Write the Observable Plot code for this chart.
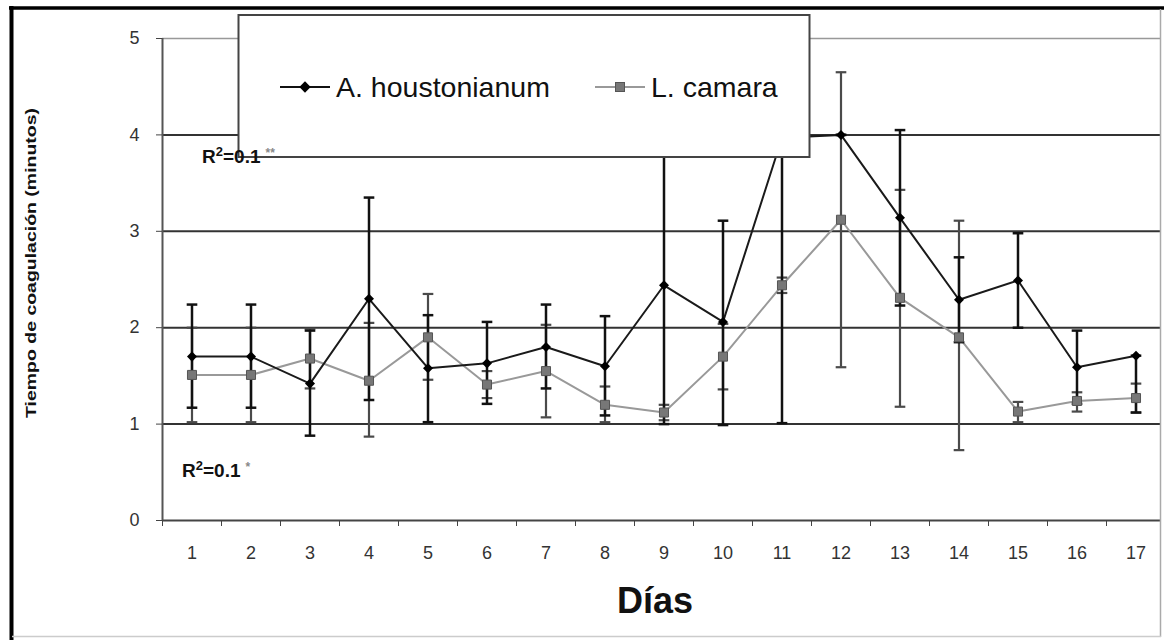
<!DOCTYPE html>
<html><head><meta charset="utf-8">
<script src="https://cdn.jsdelivr.net/npm/d3@7"></script>
<script src="https://cdn.jsdelivr.net/npm/@observablehq/plot@0.6"></script>
<style>
html,body{margin:0;padding:0;background:#fff;}
#wrap{position:relative;width:1164px;height:640px;overflow:hidden;background:#fff;}
#chart{position:absolute;left:0;top:0;}
.ov{position:absolute;left:0;top:0;pointer-events:none;}
</style></head><body>
<div id="wrap"><div id="chart"></div>
<svg class="ov" width="1164" height="640" xmlns="http://www.w3.org/2000/svg">
  <line x1="11.5" y1="6" x2="11.5" y2="640" stroke="#000" stroke-width="4"/>
  <line x1="9" y1="8" x2="1164" y2="8" stroke="#000" stroke-width="3.5"/>
  <line x1="1160.5" y1="9" x2="1160.5" y2="637" stroke="#aaa" stroke-width="1.5"/>
  <line x1="12" y1="636.5" x2="1161" y2="636.5" stroke="#ccc" stroke-width="1.5"/>
  <rect x="238.5" y="15" width="571" height="142" fill="#fff" stroke="#444" stroke-width="2"/>
  <line x1="280" y1="87" x2="330" y2="87" stroke="#111" stroke-width="2"/>
  <rect x="301" y="83" width="8" height="8" fill="#000" transform="rotate(45 305 87)"/>
  <text x="336" y="97" font-family="'Liberation Sans', Arial, sans-serif" font-size="28.5" fill="#111">A. houstonianum</text>
  <line x1="595" y1="87" x2="645" y2="87" stroke="#999" stroke-width="2"/>
  <rect x="615.5" y="82.5" width="9" height="9" fill="#777" stroke="#555" stroke-width="1"/>
  <text x="651" y="97" font-family="'Liberation Sans', Arial, sans-serif" font-size="28.5" fill="#111">L. camara</text>
  <text x="202" y="163" font-family="'Liberation Sans', Arial, sans-serif" font-size="19" font-weight="bold" fill="#111">R<tspan font-size="13" dy="-7">2</tspan><tspan dy="7">=0.1</tspan><tspan font-size="12" fill="#888" dx="5" dy="-6">**</tspan></text>
  <text x="182" y="477" font-family="'Liberation Sans', Arial, sans-serif" font-size="19" font-weight="bold" fill="#111">R<tspan font-size="13" dy="-7">2</tspan><tspan dy="7">=0.1</tspan><tspan font-size="12" fill="#888" dx="5" dy="-6">*</tspan></text>
  <text transform="translate(36,263) rotate(-90)" text-anchor="middle" font-family="'Liberation Sans', Arial, sans-serif" font-size="14.5" font-weight="bold" fill="#111" textLength="310" lengthAdjust="spacingAndGlyphs">Tiempo de coagulación (minutos)</text>
  <text x="655" y="613" text-anchor="middle" font-family="'Liberation Sans', Arial, sans-serif" font-size="36" font-weight="bold" fill="#111">Días</text>
</svg>
</div>
<script>
const days = [1,2,3,4,5,6,7,8,9,10,11,12,13,14,15,16,17];
const yTicks = [0,1,2,3,4,5];
const aMean = [1.70,1.70,1.42,2.30,1.58,1.63,1.80,1.60,2.44,2.06,3.97,4.00,3.14,2.29,2.49,1.59,1.71];
const aLow  = [1.17,1.17,0.88,1.25,1.02,1.21,1.37,1.09,1.00,0.99,1.01,4.00,2.23,1.85,2.00,1.21,1.12];
const aHigh = [2.24,2.24,1.97,3.35,2.13,2.06,2.24,2.12,3.88,3.11,6.93,4.00,4.05,2.73,2.98,1.97,1.71];
const lMean = [1.51,1.51,1.68,1.45,1.90,1.41,1.55,1.20,1.12,1.70,2.44,3.12,2.31,1.90,1.13,1.24,1.27];
const lLow  = [1.02,1.02,1.37,0.87,1.46,1.27,1.07,1.02,1.04,1.36,2.36,1.59,1.18,0.73,1.02,1.13,1.12];
const lHigh = [2.00,2.00,1.99,2.05,2.35,1.55,2.03,1.39,1.20,2.04,2.52,4.65,3.43,3.11,1.23,1.33,1.42];

const aRows = days.map((d,i)=>({day:d, mean:aMean[i], low:aLow[i], high:aHigh[i]}));
const lRows = days.map((d,i)=>({day:d, mean:lMean[i], low:lLow[i], high:lHigh[i]}));
const caps = rows => rows.flatMap(r => [{day:r.day, v:r.low}, {day:r.day, v:r.high}]);
const boundaries = days.map(d => d - 0.5).concat([days[days.length-1] + 0.5]);
const capW = 0.09;

const font = "'Liberation Sans Narrow', 'Arial Narrow', 'Liberation Sans', Arial, sans-serif";

const chart = Plot.plot({
  width: 1164, height: 640,
  marginLeft: 162, marginRight: 4, marginTop: 38, marginBottom: 120,
  style: {fontFamily: font, fontSize: "18px", background: "transparent", color: "#222"},
  x: {type: "linear", domain: [0.5, 17.5], range: [162, 1165], label: null},
  y: {domain: [0, 5], range: [520, 38], label: null},
  marks: [
    Plot.ruleY([1,2,3,4], {stroke: "#333", strokeWidth: 2}),
    Plot.ruleY([5], {stroke: "#999", strokeWidth: 1.5}),
    Plot.ruleY([0], {stroke: "#444", strokeWidth: 2}),
    Plot.ruleX([0.5], {y1: 0, y2: 5, stroke: "#555", strokeWidth: 2}),
    Plot.axisY({ticks: yTicks, tickSize: 6, tickPadding: 17, tickFormat: d3.format("d"), stroke: "#444", fill: "#333", label: null}),
    Plot.axisX({ticks: boundaries, tickSize: 6, tickFormat: () => "", stroke: "#444", label: null}),
    Plot.axisX({ticks: days, tickSize: 0, tickPadding: 26, tickFormat: d => String(d), fill: "#333", label: null}),
    Plot.line(lRows, {x: "day", y: "mean", stroke: "#999", strokeWidth: 2}),
    Plot.line(aRows, {x: "day", y: "mean", stroke: "#1a1a1a", strokeWidth: 2}),
    Plot.ruleX(lRows, {x: "day", y1: "low", y2: "high", stroke: "#4a4a4a", strokeWidth: 2.2, clip: true}),
    Plot.link(caps(lRows), {x1: d => d.day - capW, x2: d => d.day + capW, y1: "v", y2: "v", stroke: "#4a4a4a", strokeWidth: 2.2, clip: true}),
    Plot.ruleX(aRows, {x: "day", y1: "low", y2: "high", stroke: "#111", strokeWidth: 2.5, clip: true}),
    Plot.link(caps(aRows), {x1: d => d.day - capW, x2: d => d.day + capW, y1: "v", y2: "v", stroke: "#111", strokeWidth: 2.5, clip: true}),
    Plot.dot(lRows, {x: "day", y: "mean", symbol: "square", r: 5.1, fill: "#777", stroke: "#555", strokeWidth: 1}),
    Plot.dot(aRows, {x: "day", y: "mean", symbol: "square", rotate: 45, r: 4, fill: "#000"})
  ]
});
document.getElementById("chart").appendChild(chart);
</script>
</body></html>
